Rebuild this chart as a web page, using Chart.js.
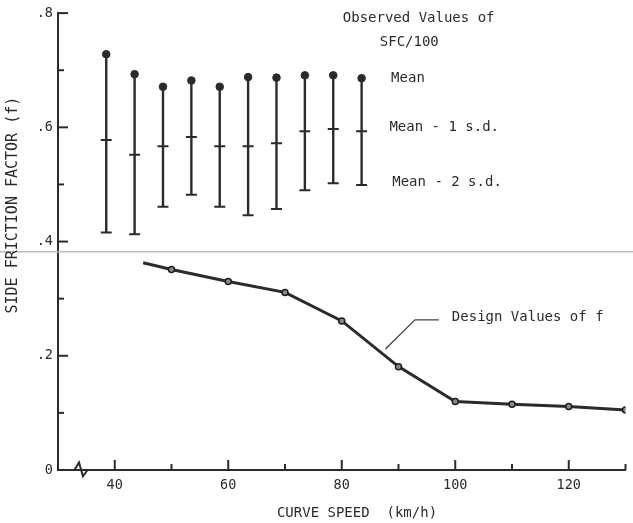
<!DOCTYPE html>
<html lang="en">
<head>
<meta charset="UTF-8">
<title>Side Friction Factor vs Curve Speed</title>
<script src="https://cdn.jsdelivr.net/npm/chart.js"></script>
<style>
    html, body { margin: 0; padding: 0; background: #fff; }
    #chart { display: block; }
</style>
</head>
<body>
<canvas id="chart" width="633" height="523"></canvas>
<script>
    // Observed values of SFC/100 (speed in km/h)
    const obsSpeeds = [38.5, 43.5, 48.5, 53.5, 58.5, 63.5, 68.5, 73.5, 78.5, 83.5];
    const obsMean   = [0.728, 0.693, 0.671, 0.682, 0.671, 0.688, 0.687, 0.691, 0.691, 0.686];
    const obsMinus1 = [0.578, 0.552, 0.567, 0.583, 0.567, 0.567, 0.572, 0.593, 0.597, 0.593];
    const obsMinus2 = [0.416, 0.413, 0.461, 0.482, 0.461, 0.446, 0.457, 0.490, 0.502, 0.499];

    // Design values of f
    const designSpeeds = [45, 50, 60, 70, 80, 90, 100, 110, 120, 130];
    const designF      = [0.363, 0.351, 0.330, 0.311, 0.261, 0.181, 0.120, 0.115, 0.111, 0.105];

    // leader line to "Design Values of f"
    const leaderX = [87.7, 92.9, 97.1];
    const leaderY = [0.212, 0.263, 0.263];

    // axis break mark near the origin
    const breakX = [32.9, 33.7, 34.4, 35.2];
    const breakY = [0, 0.013, -0.011, 0];

    // faint horizontal line running across the whole scan
    const scanLineY = 0.382;

    const xMin = 30, xMax = 130, yMin = 0, yMax = 0.8;
    const ink = "#2b2b2b";
    const mono = "'DejaVu Sans Mono', monospace";

    const toPts = (xs, ys) => xs.map((x, i) => ({ x: x, y: ys[i] }));

    // vertical lines from mean - 2 s.d. up to the mean, split by gaps
    const barSegments = [];
    obsSpeeds.forEach((s, i) => {
        barSegments.push({ x: s, y: obsMinus2[i] }, { x: s, y: obsMean[i] }, { x: s, y: null });
    });

    // scan line goes edge to edge, so draw it outside the chart area clip
    const scanLine = {
        id: "scanLine",
        beforeDatasetsDraw(chart) {
            const { ctx, width, scales } = chart;
            const py = scales.y.getPixelForValue(scanLineY);
            ctx.save();
            ctx.strokeStyle = "#b9b9b9";
            ctx.lineWidth = 1.5;
            ctx.beginPath();
            ctx.moveTo(0, py);
            ctx.lineTo(width, py);
            ctx.stroke();
            ctx.restore();
        }
    };

    // tick marks point inward, long at labelled values
    const inwardTicks = {
        id: "inwardTicks",
        afterDraw(chart) {
            const { ctx, chartArea, scales } = chart;
            ctx.save();
            ctx.strokeStyle = ink;
            ctx.lineWidth = 2;
            scales.x.ticks.forEach(t => {
                if (t.value <= xMin) return;
                const px = scales.x.getPixelForValue(t.value);
                const len = t.value % 20 === 0 ? 10 : 6;
                ctx.beginPath();
                ctx.moveTo(px, chartArea.bottom);
                ctx.lineTo(px, chartArea.bottom - len);
                ctx.stroke();
            });
            scales.y.ticks.forEach(t => {
                const k = Math.round(t.value * 10);
                if (k <= 0) return;
                const py = scales.y.getPixelForValue(t.value);
                const len = k % 2 === 0 ? 10 : 6;
                ctx.beginPath();
                ctx.moveTo(chartArea.left, py);
                ctx.lineTo(chartArea.left + len, py);
                ctx.stroke();
            });
            ctx.restore();
        }
    };

    // text notes and axis titles
    const notes = [
        { text: "Observed Values of", x: 93.55, y: 0.791, align: "center" },
        { text: "SFC/100", x: 91.9, y: 0.7485, align: "center" },
        { text: "Mean", x: 88.7, y: 0.6866, align: "left" },
        { text: "Mean - 1 s.d.", x: 88.4, y: 0.5996, align: "left" },
        { text: "Mean - 2 s.d.", x: 88.9, y: 0.503, align: "left" },
        { text: "Design Values of f", x: 99.4, y: 0.2668, align: "left" }
    ];

    const textLayer = {
        id: "textLayer",
        afterDraw(chart) {
            const { ctx, chartArea, scales } = chart;
            ctx.save();
            ctx.fillStyle = ink;
            ctx.textBaseline = "middle";
            ctx.font = "14px " + mono;
            notes.forEach(n => {
                ctx.textAlign = n.align;
                ctx.fillText(n.text, scales.x.getPixelForValue(n.x), scales.y.getPixelForValue(n.y));
            });

            // x axis title
            ctx.textAlign = "center";
            ctx.font = "14px " + mono;
            ctx.fillText("CURVE SPEED  (km/h)", chartArea.left + 299, chartArea.bottom + 43);

            // y axis title
            ctx.font = "15px " + mono;
            ctx.translate(chartArea.left - 44.5, chartArea.top + 192);
            ctx.rotate(-Math.PI / 2);
            ctx.fillText("SIDE FRICTION FACTOR (f)", 0, 0);
            ctx.restore();
        }
    };

    new Chart(document.getElementById("chart"), {
        type: "scatter",
        data: {
            datasets: [
                {
                    type: "line",
                    data: barSegments,
                    borderColor: ink,
                    borderWidth: 2.4,
                    pointRadius: 0,
                    spanGaps: false
                },
                {
                    data: toPts(obsSpeeds, obsMinus1),
                    pointStyle: "line",
                    pointRadius: 5.5,
                    borderColor: ink,
                    borderWidth: 2
                },
                {
                    data: toPts(obsSpeeds, obsMinus2),
                    pointStyle: "line",
                    pointRadius: 5.5,
                    borderColor: ink,
                    borderWidth: 2
                },
                {
                    data: toPts(obsSpeeds, obsMean),
                    pointStyle: "circle",
                    pointRadius: 3.8,
                    backgroundColor: ink,
                    borderColor: ink,
                    borderWidth: 1
                },
                {
                    type: "line",
                    data: toPts(designSpeeds, designF),
                    borderColor: ink,
                    borderWidth: 3,
                    pointRadius: designSpeeds.map((s, i) => i === 0 ? 0 : 3),
                    pointBackgroundColor: "#8a8a8a",
                    pointBorderColor: "#1e1e1e",
                    pointBorderWidth: 1.5,
                    tension: 0
                },
                {
                    type: "line",
                    data: toPts(leaderX, leaderY),
                    borderColor: "#444",
                    borderWidth: 1.3,
                    pointRadius: 0
                },
                {
                    type: "line",
                    data: toPts(breakX, breakY),
                    borderColor: ink,
                    borderWidth: 2,
                    pointRadius: 0,
                    clip: false
                }
            ]
        },
        options: {
            responsive: false,
            animation: false,
            devicePixelRatio: 1,
            layout: { padding: { top: 13, right: 2, left: 0, bottom: 0 } },
            plugins: {
                legend: { display: false },
                tooltip: { enabled: false }
            },
            scales: {
                x: {
                    type: "linear",
                    min: xMin,
                    max: xMax,
                    offset: false,
                    grid: { display: false, drawTicks: false },
                    border: { display: true, color: ink, width: 2 },
                    ticks: {
                        stepSize: 10,
                        autoSkip: false,
                        maxRotation: 0,
                        padding: 7,
                        color: ink,
                        font: { family: mono, size: 13.5 },
                        callback: v => v % 20 === 0 ? String(v) : ""
                    },
                    afterFit(s) { s.height = 53; }
                },
                y: {
                    type: "linear",
                    min: yMin,
                    max: yMax,
                    grid: { display: false, drawTicks: false },
                    border: { display: true, color: ink, width: 2 },
                    ticks: {
                        stepSize: 0.1,
                        autoSkip: false,
                        padding: 5,
                        color: ink,
                        font: { family: mono, size: 13.5 },
                        callback: v => {
                            const k = Math.round(v * 10);
                            if (k === 0) return "0";
                            return k % 2 === 0 ? "." + k : "";
                        }
                    },
                    afterFit(s) { s.width = 58; }
                }
            }
        },
        plugins: [scanLine, inwardTicks, textLayer]
    });
</script>
</body>
</html>
